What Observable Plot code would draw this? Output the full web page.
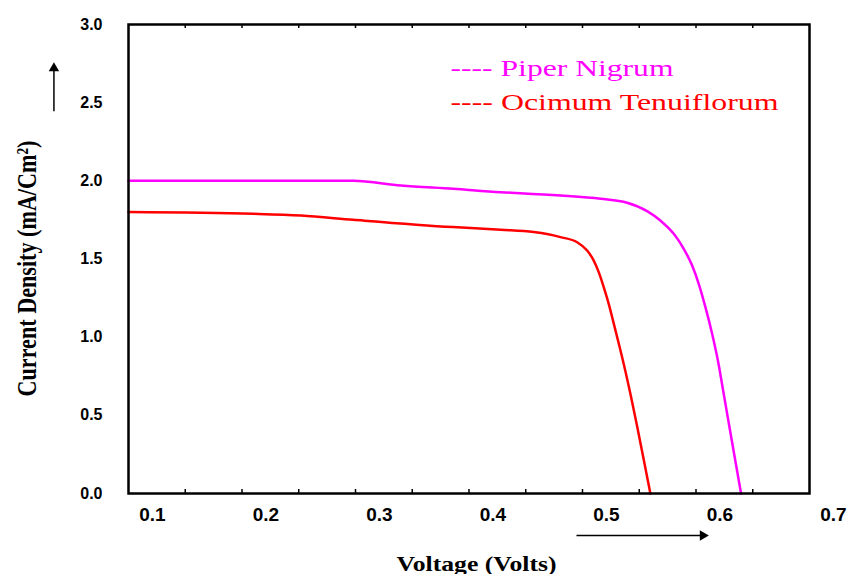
<!DOCTYPE html>
<html><head><meta charset="utf-8">
<script src="https://cdn.jsdelivr.net/npm/d3@7"></script>
<script src="https://cdn.jsdelivr.net/npm/@observablehq/plot@0.6"></script>
<style>body{margin:0;background:#fff}</style>
</head><body><div id="chart"></div>
<script>
const seriesNames = ["Piper Nigrum", "Ocimum Tenuiflorum"];
const seriesColors = ["#ff00ff", "#ff0000"];

const piperV = [0.079, 0.277, 0.319, 0.365, 0.407, 0.424, 0.4596, 0.495, 0.5183, 0.5359, 0.5476, 0.5594, 0.5682, 0.5756, 0.5814, 0.5873, 0.5932, 0.5983, 0.6034, 0.6085, 0.6136, 0.6187];
const piperJ = [2.0, 2.0, 1.97, 1.949, 1.927, 1.921, 1.906, 1.885, 1.860, 1.806, 1.746, 1.661, 1.565, 1.458, 1.341, 1.192, 1.022, 0.851, 0.638, 0.424, 0.211, 0.0];

const ocimumV = [0.079, 0.189, 0.231, 0.277, 0.365, 0.407, 0.436, 0.4596, 0.4743, 0.4831, 0.4889, 0.4933, 0.4977, 0.5021, 0.5066, 0.5110, 0.5146, 0.5212, 0.5273, 0.5331, 0.5388];
const ocimumJ = [1.80, 1.789, 1.778, 1.751, 1.704, 1.687, 1.672, 1.640, 1.607, 1.554, 1.490, 1.416, 1.320, 1.213, 1.085, 0.958, 0.851, 0.638, 0.424, 0.211, 0.0];

const xTickLabels = [0.1, 0.2, 0.3, 0.4, 0.5, 0.6, 0.7];
const yTickLabels = [0.0, 0.5, 1.0, 1.5, 2.0, 2.5, 3.0];
const xMinorTicks = [0.129, 0.179, 0.229, 0.279, 0.329, 0.379, 0.429, 0.479, 0.529, 0.579, 0.629];
const xDomain = [0.079, 0.679];
const yDomain = [0, 3];

const xTitle = "Voltage (Volts)";
const yTitle = "Current Density (mA/Cm²)";
const legendLabels = seriesNames.map(n => "---- " + n);

// annotation arrows (data coordinates)
const arrowX1 = [0.4737, 0.0133];
const arrowX2 = [0.5850, 0.0133];
const arrowY1 = [-0.269, 2.445];
const arrowY2 = [-0.269, 2.720];
const arrowRotate = [90, 0];

const W = 853, H = 574, mL = 128, mR = 44, mT = 24, mB = 81;
const plotH = H - mT - mB;

const rows = [
  ...piperV.map((v, i) => ({series: seriesNames[0], v, j: piperJ[i]})),
  ...ocimumV.map((v, i) => ({series: seriesNames[1], v, j: ocimumJ[i]}))
];
const arrows = arrowX1.map((d, i) => ({x1: d, x2: arrowX2[i], y1: arrowY1[i], y2: arrowY2[i], rot: arrowRotate[i]}));

const chart = Plot.plot({
  width: W, height: H,
  marginLeft: mL, marginRight: mR, marginTop: mT, marginBottom: mB,
  x: {domain: xDomain},
  y: {domain: yDomain},
  color: {domain: seriesNames, range: seriesColors},
  style: {background: "white", overflow: "visible"},
  marks: [
    Plot.ruleX(xMinorTicks, {stroke: "#000", strokeWidth: 1.5, insetTop: plotH - 4}),
    Plot.ruleX(xMinorTicks, {stroke: "#000", strokeWidth: 1.5, insetBottom: plotH - 4}),
    Plot.line(rows, {x: "v", y: "j", z: "series", stroke: "series", strokeWidth: 2.5, curve: "monotone-x"}),
    Plot.frame({stroke: "#000", strokeWidth: 2.5}),
    Plot.axisX(xTickLabels, {tickSize: 0, tickPadding: 14, tickFormat: d => d.toFixed(1), fontSize: 19, fontWeight: "bold", fontFamily: "Liberation Sans, Arial, sans-serif", fill: "#000", label: null}),
    Plot.axisY(yTickLabels, {tickSize: 0, tickPadding: 26, tickFormat: d => d.toFixed(1), fontSize: 16, fontWeight: "bold", fontFamily: "Liberation Sans, Arial, sans-serif", fill: "#000", label: null}),
    Plot.text([xTitle], {text: d => d, frameAnchor: "bottom", dx: 7.5, dy: 77, lineAnchor: "bottom", fontFamily: "Liberation Serif, serif", fontWeight: "bold", fontSize: 21, fill: "#000"}),
    Plot.text([yTitle], {text: d => d, frameAnchor: "left", rotate: -90, textAnchor: "start", dx: -93, dy: 137.5, lineAnchor: "bottom", fontFamily: "Liberation Serif, serif", fontWeight: "bold", fontSize: 28, fill: "#000"}),
    ...legendLabels.map((lab, i) => Plot.text([lab], {text: d => d, frameAnchor: "top-left", textAnchor: "start", lineAnchor: "bottom", dx: 322, dy: 51 + 34 * i, fontFamily: "Liberation Serif, serif", fontSize: 24, fill: seriesColors[i]})),
    Plot.link(arrows, {x1: "x1", y1: "y1", x2: "x2", y2: "y2", stroke: "#000", strokeWidth: 1.5}),
    Plot.dot(arrows, {x: "x2", y: "y2", symbol: "triangle2", r: 5, rotate: "rot", fill: "#000", stroke: "none"})
  ]
});

const textLengths = {};
textLengths[xTitle] = 160;
textLengths[yTitle] = 256;
textLengths[legendLabels[0]] = 223;
textLengths[legendLabels[1]] = 328;
d3.select(chart).selectAll("text").each(function () {
  const t = this.textContent;
  if (textLengths[t]) {
    d3.select(this).attr("textLength", textLengths[t]).attr("lengthAdjust", "spacingAndGlyphs");
  }
});

document.getElementById("chart").appendChild(chart);
</script>
</body></html>
